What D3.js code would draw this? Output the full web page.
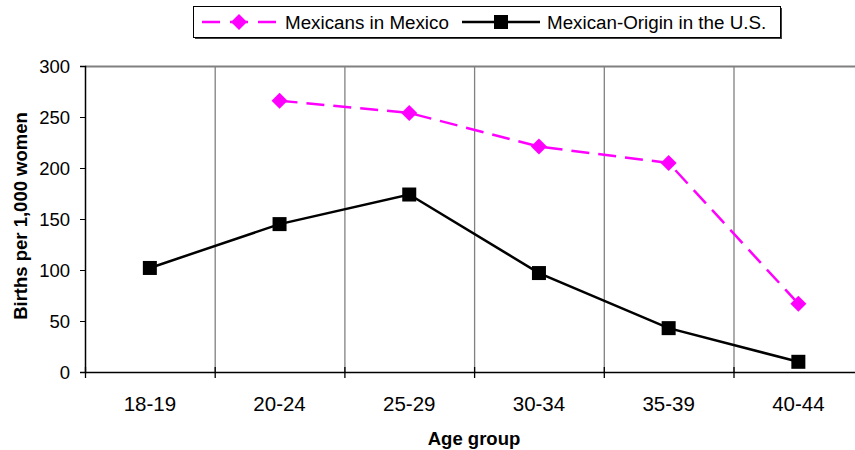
<!DOCTYPE html>
<html><head><meta charset="utf-8">
<script src="https://cdn.jsdelivr.net/npm/d3@7"></script>
<style>body{margin:0;background:#fff}svg{display:block;font-family:"Liberation Sans",Arial,sans-serif}</style>
</head><body>
<svg id="c" width="855" height="450"></svg>
<script>
const categories = ["18-19","20-24","25-29","30-34","35-39","40-44"];
const mexicoValues = [null,266,254,221,205,67];
const usValues = [102,145,174,97,43,10];
const yTicks = [0,50,100,150,200,250,300];

(function(){
const svg = d3.select("#c");
const pLeft = 85, pTop = 66, pBottom = 372, catW = 129.7;
const pRight = pLeft + catW*categories.length;
const x = d3.scaleBand().domain(categories).range([pLeft,pRight]);
const y = d3.scaleLinear().domain([0,300]).range([pBottom,pTop]);
const FF = "Liberation Sans, Arial, sans-serif";

// top border
svg.append("line").attr("x1",pLeft).attr("x2",855).attr("y1",pTop+0.5).attr("y2",pTop+0.5).attr("stroke","#808080").attr("stroke-width",2);
// vertical gridlines
svg.append("g").selectAll("line").data(categories.slice(1)).join("line")
  .attr("x1",d=>x(d)+0.5).attr("x2",d=>x(d)+0.5).attr("y1",pTop).attr("y2",pBottom)
  .attr("stroke","#808080").attr("stroke-width",1.3);

// y axis
const ya = svg.append("g").attr("transform",`translate(${pLeft},0)`)
  .call(d3.axisLeft(y).tickValues(yTicks).tickSize(5).tickPadding(10));
ya.select(".domain").attr("stroke","#000").attr("stroke-width",1.5);
ya.selectAll(".tick line").attr("stroke","#000");
ya.selectAll("text").attr("font-size",18.5).attr("fill","#000").attr("font-family",FF).attr("dy","0.36em");

// x axis
const xa = svg.append("g").attr("transform",`translate(0,${pBottom})`)
  .call(d3.axisBottom(x).tickSize(0).tickPadding(0));
xa.select(".domain").attr("stroke","#000").attr("stroke-width",1.5);
xa.selectAll("text").attr("font-size",20.5).attr("fill","#000").attr("font-family",FF).attr("dy",null).attr("y",39);
svg.append("g").selectAll("line").data(d3.range(categories.length+1)).join("line")
  .attr("x1",i=>pLeft+i*catW+0.5).attr("x2",i=>pLeft+i*catW+0.5).attr("y1",pBottom-5).attr("y2",pBottom+6)
  .attr("stroke","#000").attr("stroke-width",1.3);

// axis titles
svg.append("text").attr("x",474).attr("y",445).attr("text-anchor","middle")
  .attr("font-size",18.5).attr("font-weight","bold").text("Age group");
svg.append("text").attr("transform",`translate(27,216) rotate(-90)`).attr("text-anchor","middle")
  .attr("font-size",18.5).attr("font-weight","bold").text("Births per 1,000 women");

const cx = d => x(d)+x.bandwidth()/2;
// Mexico series
const mData = categories.map((c,i)=>({c,v:mexicoValues[i]})).filter(d=>d.v!=null);
svg.append("path").datum(mData).attr("fill","none").attr("stroke","#ff00ff").attr("stroke-width",2.5)
  .attr("stroke-dasharray","18,9")
  .attr("d",d3.line().x(d=>cx(d.c)).y(d=>y(d.v)));
svg.append("g").selectAll("path").data(mData).join("path")
  .attr("transform",d=>`translate(${cx(d.c)},${y(d.v)})`)
  .attr("d","M0,-8L8,0L0,8L-8,0Z").attr("fill","#ff00ff");

// US series
const uData = categories.map((c,i)=>({c,v:usValues[i]}));
svg.append("path").datum(uData).attr("fill","none").attr("stroke","#000").attr("stroke-width",2.5)
  .attr("d",d3.line().x(d=>cx(d.c)).y(d=>y(d.v)));
svg.append("g").selectAll("rect").data(uData).join("rect")
  .attr("x",d=>cx(d.c)-7).attr("y",d=>y(d.v)-7).attr("width",14).attr("height",14).attr("fill","#000");

// legend
const lg = svg.append("g");
lg.append("rect").attr("x",195).attr("y",8).attr("width",587).attr("height",31).attr("fill","#404040");
lg.append("rect").attr("x",193.5).attr("y",6.5).attr("width",587).attr("height",31).attr("fill","#fff").attr("stroke","#000").attr("stroke-width",1);
lg.append("line").attr("x1",202).attr("x2",276).attr("y1",22).attr("y2",22).attr("stroke","#ff00ff").attr("stroke-width",2.5).attr("stroke-dasharray","18,10");
lg.append("path").attr("transform","translate(239,22)").attr("d","M0,-8L8,0L0,8L-8,0Z").attr("fill","#ff00ff");
lg.append("text").attr("x",285).attr("y",29).attr("font-size",18.8).text("Mexicans in Mexico");
lg.append("line").attr("x1",462).attr("x2",540).attr("y1",22).attr("y2",22).attr("stroke","#000").attr("stroke-width",2.5);
lg.append("rect").attr("x",494).attr("y",15).attr("width",14).attr("height",14).attr("fill","#000");
lg.append("text").attr("x",547).attr("y",29).attr("font-size",18.8).text("Mexican-Origin in the U.S.");
})();
</script>
</body></html>
